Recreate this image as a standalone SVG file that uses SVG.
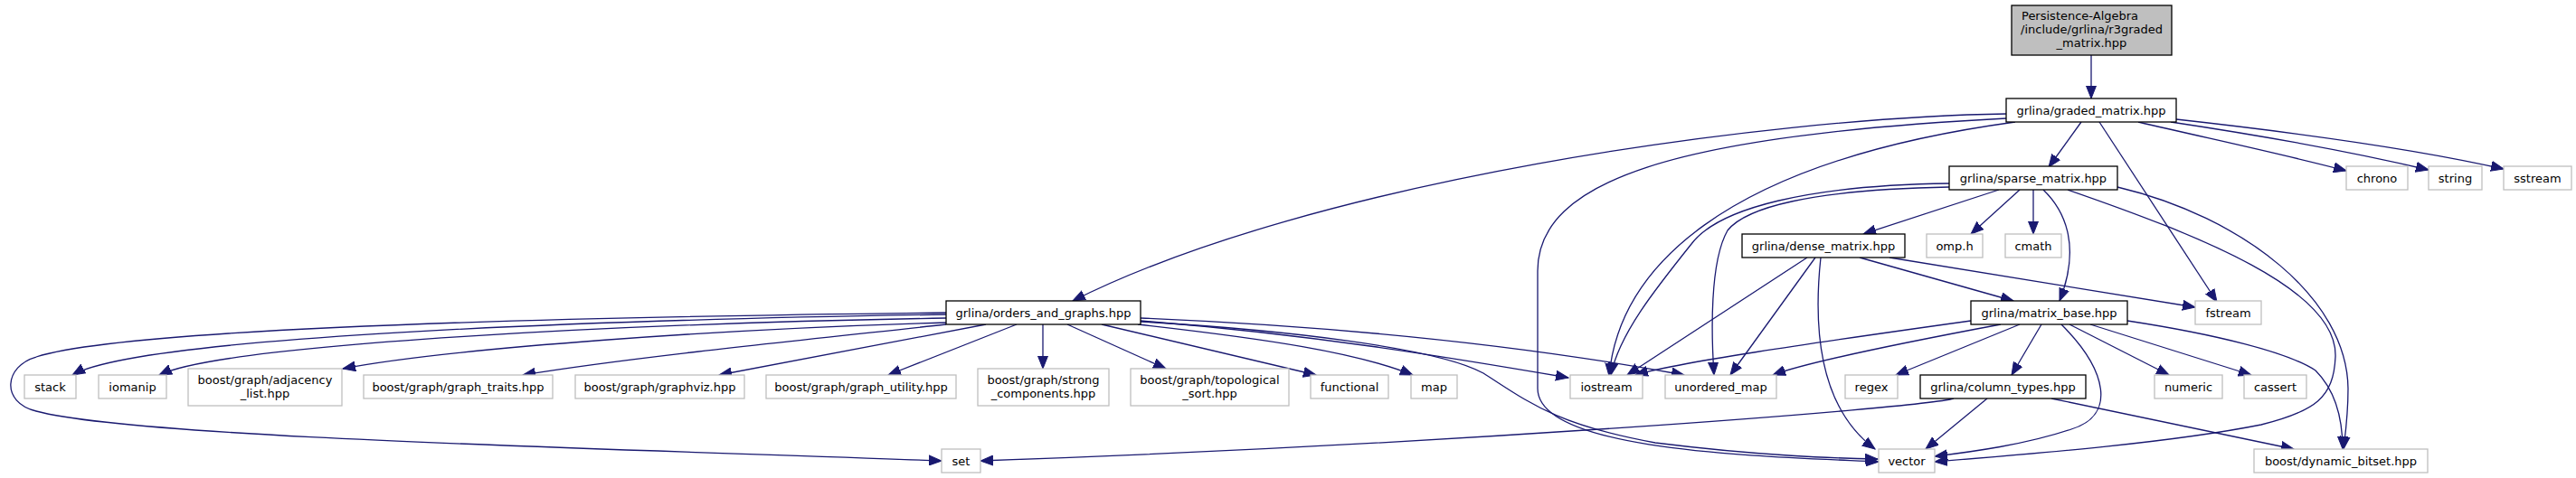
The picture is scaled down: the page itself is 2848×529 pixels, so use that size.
<svg xmlns="http://www.w3.org/2000/svg" width="2848" height="529" viewBox="0 0 2848 529">
<style>
.n rect{fill:#fff;stroke:#bfbfbf;stroke-width:1.3}
.n.i rect{stroke:#000}
.n.r rect{fill:#bfbfbf;stroke:#000}
text{font-family:"DejaVu Sans","Liberation Sans",sans-serif;font-size:13px;fill:#000;text-anchor:middle}
#edges path{fill:none;stroke:#191970;stroke-width:1.3;marker-end:url(#a)}
</style>
<defs>
<marker id="a" markerUnits="userSpaceOnUse" markerWidth="15" markerHeight="12" refX="14" refY="6" orient="auto">
<path d="M0,0.5 L14,6 L0,11.5 z" fill="#191970" stroke="#191970" stroke-width="1"/>
</marker>
</defs>
<rect width="2848" height="529" fill="#fff"/>
<g id="edges">
<path d="M2312,61 L2312,109"/>
<path d="M2218,126 C1950,130 1450,200 1186,333"/>
<path d="M2218,131 C1850,150 1700,200 1700,300 L1700,430 C1700,500 1950,505 2077,511"/>
<path d="M2228,135 C1900,180 1790,300 1779,416"/>
<path d="M2301,135 L2265,185"/>
<path d="M2321,135 L2451,334"/>
<path d="M2364,135 C2450,155 2530,172 2594,189"/>
<path d="M2400,135 C2500,150 2600,168 2685,188"/>
<path d="M2406,132 C2550,148 2680,167 2768,187"/>
<path d="M2210,210 L2060,259"/>
<path d="M2233,210 L2179,259"/>
<path d="M2248,210 L2248,259"/>
<path d="M2259,210 C2285,235 2300,275 2277,333"/>
<path d="M2286,210 C2430,260 2585,320 2582,395 C2580,440 2560,455 2500,470 C2400,490 2250,502 2139,511"/>
<path d="M2341,207 C2480,240 2595,330 2596,430 C2596,460 2593,480 2591,497"/>
<path d="M2155,203 C2000,205 1900,230 1870,270 C1830,320 1790,370 1781,415"/>
<path d="M2155,207 C2000,210 1930,230 1910,255 C1890,290 1892,370 1895,415"/>
<path d="M1998,285 L1799,415"/>
<path d="M2007,285 L1913,415"/>
<path d="M2013,285 C2005,360 2010,450 2073,497"/>
<path d="M2056,285 L2226,333"/>
<path d="M2089,285 L2427,340"/>
<path d="M2179,355 C2000,380 1850,402 1808,415"/>
<path d="M2212,359 C2100,380 2000,400 1960,415"/>
<path d="M2233,359 L2096,415"/>
<path d="M2257,359 L2224,415"/>
<path d="M2279,359 C2330,410 2340,460 2290,475 C2240,492 2180,500 2139,505"/>
<path d="M2288,359 L2398,415"/>
<path d="M2311,359 L2489,415"/>
<path d="M2352,355 C2450,370 2530,390 2560,410 C2585,435 2590,470 2590,497"/>
<path d="M2160,441 C2120,452 1600,492 1084,510"/>
<path d="M2197,441 L2129,497"/>
<path d="M2268,441 L2536,497"/>
<path d="M1046,346 C700,350 150,360 40,395 C5,405 0,445 40,455 C150,485 700,497 1041,510"/>
<path d="M1046,348 C600,355 150,375 80,415"/>
<path d="M1046,352 C700,358 250,380 176,415"/>
<path d="M1046,357 C800,364 500,385 379,408"/>
<path d="M1046,359 C900,375 700,395 578,415"/>
<path d="M1090,359 L795,415"/>
<path d="M1124,359 L982,415"/>
<path d="M1153,359 L1153,408"/>
<path d="M1180,359 L1289,408"/>
<path d="M1218,359 L1455,415"/>
<path d="M1258,359 C1400,375 1500,390 1562,415"/>
<path d="M1261,355 C1450,370 1600,395 1734,418"/>
<path d="M1261,352 C1500,362 1700,385 1862,415"/>
<path d="M1261,356 C1420,365 1590,385 1640,413 C1690,445 1720,470 1830,490 C1950,505 2030,507 2076,508"/>
</g>
<g id="root" class="n r"><rect x="2224" y="6" width="177" height="55"/><text x="2235" y="22" style="text-anchor:start">Persistence-Algebra</text><text x="2312.5" y="37">/include/grlina/r3graded</text><text x="2312.5" y="52">_matrix.hpp</text></g>
<g id="graded" class="n i"><rect x="2218" y="109" width="188" height="26"/><text x="2312" y="127">grlina/graded_matrix.hpp</text></g>
<g id="sparse" class="n i"><rect x="2155" y="184" width="186" height="26"/><text x="2248" y="202">grlina/sparse_matrix.hpp</text></g>
<g id="chrono" class="n"><rect x="2594" y="184" width="68" height="26"/><text x="2628" y="202">chrono</text></g>
<g id="string" class="n"><rect x="2685" y="184" width="59" height="26"/><text x="2714.5" y="202">string</text></g>
<g id="sstream" class="n"><rect x="2768" y="184" width="75" height="26"/><text x="2805.5" y="202">sstream</text></g>
<g id="dense" class="n i"><rect x="1926" y="259" width="180" height="26"/><text x="2016" y="277">grlina/dense_matrix.hpp</text></g>
<g id="omp" class="n"><rect x="2130" y="259" width="62" height="26"/><text x="2161" y="277">omp.h</text></g>
<g id="cmath" class="n"><rect x="2217" y="259" width="62" height="26"/><text x="2248" y="277">cmath</text></g>
<g id="orders" class="n i"><rect x="1046" y="333" width="215" height="26"/><text x="1153.5" y="351">grlina/orders_and_graphs.hpp</text></g>
<g id="matrix_base" class="n i"><rect x="2179" y="333" width="173" height="26"/><text x="2265.5" y="351">grlina/matrix_base.hpp</text></g>
<g id="fstream" class="n"><rect x="2427" y="333" width="73" height="26"/><text x="2463.5" y="351">fstream</text></g>
<g id="stack" class="n"><rect x="27" y="415" width="57" height="26"/><text x="55.5" y="433">stack</text></g>
<g id="iomanip" class="n"><rect x="109" y="415" width="75" height="26"/><text x="146.5" y="433">iomanip</text></g>
<g id="adjacency" class="n"><rect x="208" y="408" width="170" height="41"/><text x="293" y="425">boost/graph/adjacency</text><text x="293" y="440">_list.hpp</text></g>
<g id="graph_traits" class="n"><rect x="402" y="415" width="209" height="26"/><text x="506.5" y="433">boost/graph/graph_traits.hpp</text></g>
<g id="graphviz" class="n"><rect x="636" y="415" width="187" height="26"/><text x="729.5" y="433">boost/graph/graphviz.hpp</text></g>
<g id="graph_utility" class="n"><rect x="847" y="415" width="210" height="26"/><text x="952" y="433">boost/graph/graph_utility.hpp</text></g>
<g id="strong" class="n"><rect x="1081" y="408" width="145" height="41"/><text x="1153.5" y="425">boost/graph/strong</text><text x="1153.5" y="440">_components.hpp</text></g>
<g id="topological" class="n"><rect x="1250" y="408" width="175" height="41"/><text x="1337.5" y="425">boost/graph/topological</text><text x="1337.5" y="440">_sort.hpp</text></g>
<g id="functional" class="n"><rect x="1449" y="415" width="86" height="26"/><text x="1492" y="433">functional</text></g>
<g id="map" class="n"><rect x="1560" y="415" width="51" height="26"/><text x="1585.5" y="433">map</text></g>
<g id="iostream" class="n"><rect x="1736" y="415" width="80" height="26"/><text x="1776" y="433">iostream</text></g>
<g id="unordered_map" class="n"><rect x="1841" y="415" width="123" height="26"/><text x="1902.5" y="433">unordered_map</text></g>
<g id="regex" class="n"><rect x="2040" y="415" width="58" height="26"/><text x="2069" y="433">regex</text></g>
<g id="column_types" class="n i"><rect x="2123" y="415" width="183" height="26"/><text x="2214.5" y="433">grlina/column_types.hpp</text></g>
<g id="numeric" class="n"><rect x="2382" y="415" width="75" height="26"/><text x="2419.5" y="433">numeric</text></g>
<g id="cassert" class="n"><rect x="2481" y="415" width="69" height="26"/><text x="2515.5" y="433">cassert</text></g>
<g id="set" class="n"><rect x="1041" y="497" width="43" height="26"/><text x="1062.5" y="515">set</text></g>
<g id="vector" class="n"><rect x="2077" y="497" width="62" height="26"/><text x="2108" y="515">vector</text></g>
<g id="dynamic_bitset" class="n"><rect x="2492" y="497" width="192" height="26"/><text x="2588" y="515">boost/dynamic_bitset.hpp</text></g>
</svg>
